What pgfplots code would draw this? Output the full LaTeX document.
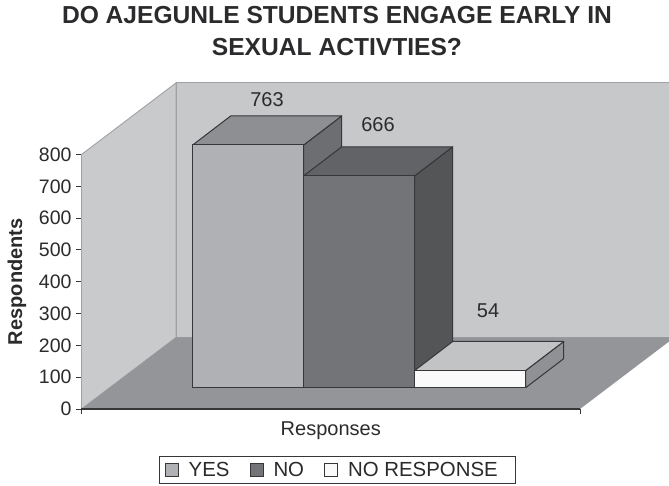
\documentclass[border=0pt]{standalone}
\usepackage{pgfplots}
\pgfplotsset{compat=1.18}
\usepackage{fontspec}
\setmainfont{Liberation Sans}
\definecolor{wallside}{HTML}{C9CACC}
\definecolor{wallback}{HTML}{C7C8CA}
\definecolor{wallline}{HTML}{A0A1A4}
\definecolor{floorgrey}{HTML}{939598}
\definecolor{inkline}{HTML}{37373A}
\definecolor{inktext}{HTML}{2B2A2C}
\definecolor{yesfront}{HTML}{B0B1B4}
\definecolor{yestop}{HTML}{8E8F92}
\definecolor{yesside}{HTML}{6D6E71}
\definecolor{nofront}{HTML}{737477}
\definecolor{notop}{HTML}{626366}
\definecolor{noside}{HTML}{545557}
\definecolor{nrfront}{HTML}{FAFAFA}
\definecolor{nrtop}{HTML}{C2C3C5}
\definecolor{nrside}{HTML}{909194}
% One face of a bar: x along the front, v in respondents, d = 0 front, 1 back.
\newcommand\face[2]{%
  \addplot[forget plot,fill=#1,draw=inkline,line width=1pt,line join=round]
    table[row sep=\\,x expr=\thisrow{x}+38*\thisrow{d},y expr=\thisrow{v}+67+91.2*\thisrow{d}]
    {x v d\\ #2} --cycle;}
% A whole bar: left edge, right edge, value, and the three face colours.
\newcommand\barbox[6]{%
  \face{#6}{#2 0 0\\ #2 0 1\\ #2 #3 1\\ #2 #3 0\\}%
  \face{#5}{#1 #3 0\\ #2 #3 0\\ #2 #3 1\\ #1 #3 1\\}%
  \face{#4}{#1 0 0\\ #2 0 0\\ #2 #3 0\\ #1 #3 0\\}}
\begin{document}
\begin{tikzpicture}[x=1pt,y=1pt,every node/.style={text=inktext}]
\path[use as bounding box] (0,0) rectangle (669,485);
\begin{axis}[
  at={(81.5pt,76pt)},anchor=south west,
  scale only axis,width=498.5pt,height=254.5pt,
  xmin=81.5,xmax=580,ymin=0,ymax=800,
  clip=false,
  axis line style={inkline,line width=1.1pt},
  axis x line*=bottom,axis y line*=left,
  axis line style={-},
  xtick={81.5,580},xticklabels={},
  ytick={0,100,...,800},
  tick style={inkline,line width=1pt},
  major tick length=5pt,
  tick align=outside,
  every tick label/.style={text=inktext},
  /pgf/number format/assume math mode=true,
  tick label style={font=\fontsize{19.5}{24}\selectfont},
  yticklabel style={xshift=-1.5pt},
  xlabel={Responses},
  ylabel={\bfseries Respondents},
  label style={font=\fontsize{20}{24}\selectfont},
  x label style={at={(axis description cs:0.5,-0.0864)},anchor=center},
  y label style={at={(axis description cs:-0.1294,0.5)},anchor=center},
  title={\bfseries DO AJEGUNLE STUDENTS ENGAGE EARLY IN\\ \bfseries SEXUAL ACTIVTIES?},
  title style={at={(axis description cs:0.5125,1.46)},anchor=center,align=center,
    font=\fontsize{24.6}{32}\selectfont},
  legend columns=3,
  legend style={at={(axis cs:159.3,-147.5)},anchor=north west,
    draw=inkline,line width=0.8pt,font=\fontsize{20.4}{24}\selectfont,text=inktext,
    inner xsep=5pt,inner ysep=3.5pt,
    /tikz/column 1/.style={column sep=8pt},
    /tikz/column 2/.style={column sep=18pt},
    /tikz/column 3/.style={column sep=8pt},
    /tikz/column 4/.style={column sep=18pt},
    /tikz/column 5/.style={column sep=8pt}},
  legend image code/.code={\draw[#1,line width=1pt] (0pt,-6.5pt) rectangle (13pt,6.5pt);},
]
% Walls and floor of the chart box
\addplot[forget plot,fill=wallside,draw=wallline,line width=0.9pt]
  coordinates {(81.5,0) (176,224.8) (176,1025) (81.5,800)} --cycle;
\addplot[forget plot,fill=wallback,draw=wallline,line width=0.9pt]
  coordinates {(176,224.8) (669,224.8) (669,1025) (176,1025)} --cycle;
\addplot[forget plot,fill=floorgrey,draw=none]
  coordinates {(81.5,0) (176,224.8) (669,224.8) (669,212) (580,0)} --cycle;
\addplot[forget plot,draw=inkline,line width=1.1pt]
  coordinates {(81.5,0) (580,0)};
% Bars, back to front in drawing order
\barbox{192.7}{303.7}{763}{yesfront}{yestop}{yesside}
\barbox{303.7}{414.7}{666}{nofront}{notop}{noside}
\barbox{414.7}{525.7}{54}{nrfront}{nrtop}{nrside}
% Value labels
\node[font=\fontsize{20}{24}\selectfont] at (axis cs:267,974) {763};
\node[font=\fontsize{20}{24}\selectfont] at (axis cs:378,893) {666};
\node[font=\fontsize{20}{24}\selectfont] at (axis cs:488,308) {54};
% Legend
\addlegendimage{fill=yesfront,draw=inkline}\addlegendentry{YES}
\addlegendimage{fill=nofront,draw=inkline}\addlegendentry{NO}
\addlegendimage{fill=nrfront,draw=inkline}\addlegendentry{NO RESPONSE\hspace*{11pt}}
\end{axis}
\end{tikzpicture}
\end{document}
